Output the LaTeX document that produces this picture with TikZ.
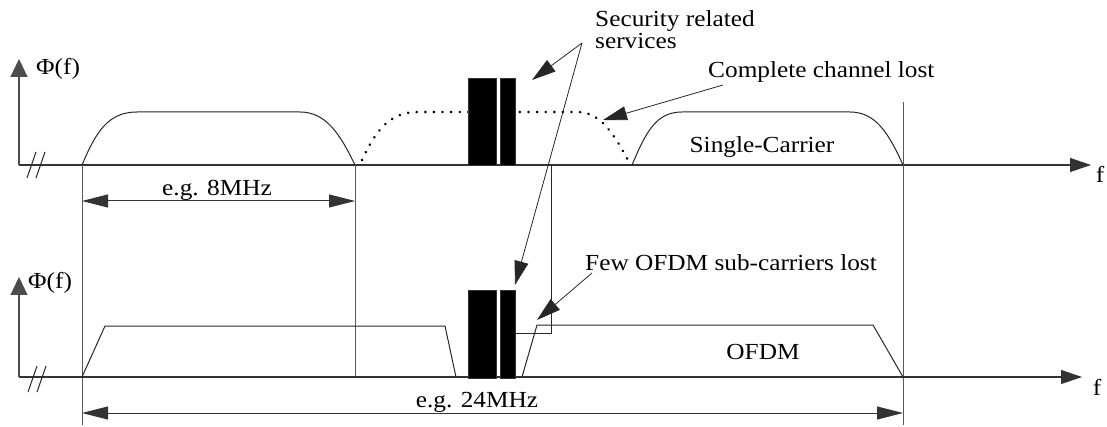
\documentclass[tikz,border=0pt]{standalone}
\usepackage{fontspec}
\setmainfont{Liberation Serif}
\usetikzlibrary{arrows.meta}
\begin{document}
\begin{tikzpicture}[x=1pt,y=-1pt,
  line/.style={line width=1pt, draw=black!85},
  guide/.style={line width=1pt, draw=black!65},
  axis/.style={line width=1.1pt, draw=black!80, -{Triangle[length=21pt,width=14pt]}},
  yaxis/.style={line width=1.1pt, draw=black!70, -{Triangle[length=18pt,width=17pt]}},
  dim/.style={line width=1pt, draw=black!80, {Triangle[length=26pt,width=13pt]}-{Triangle[length=26pt,width=13pt]}},
  callout/.style={line width=0.8pt, draw=black!85, -{Triangle[length=24pt,width=14pt]}},
  dots/.style={line width=2.8pt, draw=black, line cap=round, dash pattern=on 0.1pt off 8.5pt},
  lbl/.style={font=\fontsize{23}{22}\selectfont, xscale=1.1, inner sep=0pt, text=black},
  blk/.style={fill=black, draw=black!80, inner sep=0pt, anchor=north west}
]
\useasboundingbox (0,0) rectangle (1107,427);

% ---------- top: single carrier ----------
\coordinate (O1) at (19,165);
\coordinate (X1) at (1091,165);
\coordinate (Y1) at (19,59);
\draw[axis] (O1) -- (X1);
\draw[yaxis] (O1) -- (Y1);
\node[lbl, anchor=west] (phi1) at (36,69) {Φ(f)};
\node[lbl] (f1) at (1100,174) {f};
\draw[line] (27,178) -- (36,152) (36,178) -- (45,152);

% guides
\coordinate (g1t) at (82,165);  \coordinate (g1b) at (82,425);
\coordinate (g2t) at (355,165); \coordinate (g2b) at (355,377);
\coordinate (g3t) at (903,102); \coordinate (g3b) at (903,425);
\draw[guide] (g1t) -- (g1b);
\draw[guide] (g2t) -- (g2b);
\draw[guide] (g3t) -- (g3b);

% channel curves
\draw[line] (82,165) .. controls (96,132) and (108,112) .. (137,112)
  -- (300,112) .. controls (326,112) and (340,134) .. (355,165);
\draw[dots] (362,160) .. controls (376,130) and (390,112) .. (418,112)
  -- (578,112) .. controls (600,112) and (614,134) .. (629,162);
\draw[line] (632,165) .. controls (646,132) and (656,112) .. (682,112)
  -- (850,112) .. controls (876,112) and (889,134) .. (903,165);

% 8 MHz
\coordinate (a8l) at (82,201);
\coordinate (a8r) at (355,201);
\draw[dim] (a8l) -- (a8r);
\node[lbl] (l8) at (217,190) {e.g. 8MHz};

\node[lbl] (sc) at (762,147) {Single-Carrier};

% top blocks
\node[blk, minimum width=28pt, minimum height=87pt] (b1a) at (468,78) {};
\node[blk, minimum width=15pt, minimum height=87pt] (b1b) at (500,78) {};

% ---------- bottom: OFDM ----------
\coordinate (O2) at (19,377);
\coordinate (X2) at (1082,377);
\coordinate (Y2) at (19,277);
\draw[axis] (O2) -- (X2);
\draw[yaxis] (O2) -- (Y2);
\node[lbl, anchor=west] (phi2) at (28,283) {Φ(f)};
\node[lbl] (f2) at (1097,387) {f};
\draw[line] (28,392) -- (37,366) (37,392) -- (46,366);

\draw[line] (82,377) -- (105,326) -- (445,326) -- (456,377);
\draw[line] (522,377) -- (537,325) -- (873,325) -- (903,377);

\node[blk, minimum width=28pt, minimum height=88pt] (b2a) at (468,290) {};
\node[blk, minimum width=15pt, minimum height=88pt] (b2b) at (500,290) {};

% connector box
\coordinate (k1) at (551,165);
\coordinate (k2) at (551,333);
\coordinate (k3) at (515,333);
\draw[line] (k1) -- (k2) -- (k3);

\node[lbl] (ofdm) at (763,352) {OFDM};

% 24 MHz
\coordinate (a24l) at (82,413);
\coordinate (a24r) at (903,413);
\draw[dim] (a24l) -- (a24r);
\node[lbl] (l24) at (477,402) {e.g. 24MHz};

% ---------- callouts ----------
\node[lbl, anchor=north west, align=left] (sec) at (595,10) {Security related\\services};
\coordinate (secApex) at (582,43);
\coordinate (secT1) at (532,80);
\coordinate (secT2) at (515,285);
\draw[callout] (secApex) -- (secT1);
\draw[callout] (secApex) -- (secT2);

\node[lbl, anchor=west] (ccl) at (708,72) {Complete channel lost};
\coordinate (cclS) at (723,85);
\coordinate (cclT) at (603,120);
\draw[callout] (cclS) -- (cclT);

\node[lbl, anchor=west] (few) at (585,263) {Few OFDM sub-carriers lost};
\coordinate (fewS) at (592,273);
\coordinate (fewT) at (537,320);
\draw[callout] (fewS) -- (fewT);
\end{tikzpicture}
\end{document}
